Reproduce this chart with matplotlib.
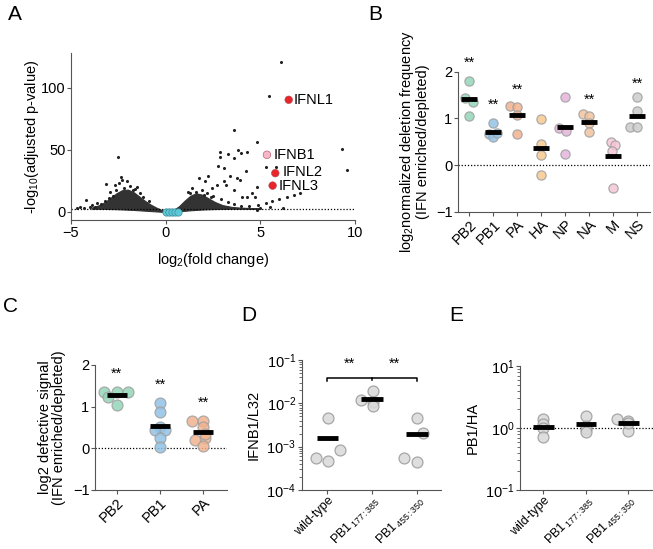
import numpy as np
import matplotlib
matplotlib.use('Agg')
import matplotlib.pyplot as plt

plt.rcParams['font.family'] = ['Liberation Sans', 'DejaVu Sans']
plt.rcParams['mathtext.fontset'] = 'custom'
plt.rcParams['mathtext.rm'] = 'Liberation Sans'
plt.rcParams['mathtext.it'] = 'Liberation Sans'
plt.rcParams['font.size'] = 10

# ---- panel A : volcano plot ----
left_cloud_x = [-3.9, -3.5, -3.2, -2.9, -2.6, -2.3, -2.0, -1.7, -1.4, -1.1, -0.8, -0.5, -0.2, 0.0]
left_cloud_top = [3.5, 5.5, 8, 11.5, 15, 17.5, 18, 16, 12.5, 9, 6, 3.5, 1.5, 0.5]
left_cloud_bot = [2.5, 2.5, 2.4, 2.3, 2.2, 2.0, 1.8, 1.6, 1.3, 1.0, 0.7, 0.4, 0.1, 0.0]
right_cloud_x = [0.0, 0.4, 0.7, 1.0, 1.3, 1.6, 1.9, 2.2, 2.6, 3.0, 3.5, 4.0, 4.5, 5.0]
right_cloud_top = [0.5, 1.5, 4.5, 9, 13, 15, 14, 11.5, 8, 5.5, 4, 3.4, 3.1, 3]
right_cloud_bot = [0, 0.2, 0.5, 0.9, 1.3, 1.6, 1.9, 2.1, 2.3, 2.4, 2.5, 2.5, 2.5, 2.5]

genes_fc = [-2.5, -2.37, -2.32, -2.06, -3.17, -2.67, -2.45, -1.74, -2.94, -3.64, -4.2, -4.52,
            -1.35, -1.52, -4.0, -3.9, -3.4, -3.2, -2.8, -2.2, -1.9, -1.6, -1.2, -0.9, -2.6,
            -3.0, -4.3, -4.7, -3.75,
            3.59, 4.83, 2.88, 2.88, 3.27, 3.59, 3.82, 4.0, 4.29, 2.79, 3.06, 4.24, 3.41, 3.77,
            2.23, 2.09, 1.74, 3.06, 3.2, 3.94, 4.83, 4.56, 3.59, 4.03, 4.29, 4.73, 2.44, 2.71,
            1.17, 6.11, 5.44, 9.32, 9.58, 5.32, 5.85, 1.4, 1.9, 2.2, 2.5, 2.9, 3.3, 3.6, 4.0,
            4.4, 4.9, 5.3, 5.6, 6.0, 6.4, 6.8, 7.1, 5.0, 5.5, 6.2, 4.8, 1.3, 1.6, 2.0, 2.4]
genes_p = [44.6, 28, 25.8, 24.5, 22.3, 21.8, 23.5, 17.7, 16.4, 7, 9.7, 4.3,
           15, 20.4, 4, 5.5, 6, 9, 13, 19.5, 21, 18.5, 12, 9, 18,
           11, 3.5, 3, 3.8,
           66, 56.2, 48.6, 44.6, 46.5, 43.3, 49.5, 47.3, 48.1, 36.6, 35.2, 33.3, 29, 27.2,
           29, 24.5, 27.2, 24.5, 21.8, 25.8, 19.9, 15, 17.7, 12.4, 12.4, 12.4, 19.1, 21.8,
           16.4, 120.7, 93.5, 50.5, 33.9, 36, 36, 19, 18, 15, 13, 10, 8, 6, 5,
           4.5, 5.5, 7, 9, 10, 12, 14, 15, 3.5, 4, 3, 1.6, 15, 16, 14, 12]

ctrl_fc = [0.0, 0.17, 0.33, 0.5, 0.66]
ctrl_p = [0.3, 0.3, 0.3, 0.3, 0.3]
ifn_names = ['IFNL1', 'IFNB1', 'IFNL2', 'IFNL3']
ifn_fc = [6.5, 5.35, 5.79, 5.65]
ifn_p = [90.3, 46, 31.2, 21.2]
ifn_colors = ['#e8262a', '#f4b8c8', '#e8262a', '#e8262a']
ifn_label_x = [6.75, 5.7, 6.2, 5.95]
ifn_label_y = [90.3, 46, 32, 20.5]
padj_cutoff = 2.5

# ---- panel B ----
segments = ['PB2', 'PB1', 'PA', 'HA', 'NP', 'NA', 'M', 'NS']
b_vals = [[1.79, 1.44, 1.36, 1.05],
          [0.89, 0.66, 0.61, 0.68],
          [1.26, 1.24, 1.08, 0.66],
          [0.99, 0.45, 0.21, -0.21],
          [1.46, 0.80, 0.73, 0.24],
          [1.10, 1.04, 0.89, 0.71],
          [0.50, 0.43, 0.30, -0.50],
          [1.45, 1.16, 0.82, 0.82]]
b_median = [1.41, 0.71, 1.07, 0.36, 0.81, 0.93, 0.19, 1.06]
b_signif = ['**', '**', '**', '', '', '**', '', '**']
b_star_y = [2.19, 1.30, 1.62, 0, 0, 1.39, 0, 1.75]
b_jitter = [[0, -0.18, 0.17, 0],
            [0, -0.15, 0, 0.15],
            [-0.3, 0, 0, 0],
            [0, 0, 0, 0],
            [0, -0.26, 0.04, 0],
            [-0.25, 0, 0, 0],
            [-0.1, 0.1, -0.03, 0],
            [0, 0, -0.3, 0]]
seg_colors = ['#93d5b9', '#92c2e6', '#f2b28e', '#f7c98f', '#e5b3dc', '#f0c49e', '#f6c6d6', '#cccccc']

# ---- panel C ----
c_segments = ['PB2', 'PB1', 'PA']
c_vals = [[1.36, 1.36, 1.36, 1.24, 1.05],
          [1.08, 0.86, 0.52, 0.44, 0.44, 0.24, 0.02],
          [0.65, 0.65, 0.52, 0.24, 0.20, 0.06, 0.35]]
c_jitter = [[-0.29, 0, 0.25, -0.19, 0],
            [0, 0, 0, -0.12, 0.12, 0, 0],
            [-0.25, 0, 0, 0.03, -0.2, 0, 0.03]]
c_median = [1.28, 0.535, 0.38]
c_star_y = [1.78, 1.52, 1.09]

# ---- panels D, E ----
mutants = ['wild-type', r'PB1$\,_{\mathregular{177:385}}$', r'PB1$\,_{\mathregular{455:350}}$']
d_vals = [[4.5e-3, 8.3e-4, 5.6e-4, 4.7e-4],
          [1.93e-2, 1.2e-2, 1.1e-2, 8.9e-3],
          [4.7e-3, 2.1e-3, 5.6e-4, 4.5e-4]]
d_jitter = [[0.02, 0.28, -0.26, 0.02],
            [0.02, -0.24, 0.02, 0.02],
            [0, 0.13, -0.29, 0]]
d_median = [1.55e-3, 1.26e-2, 1.94e-3]
e_vals = [[1.41, 1.15, 1.0, 0.71],
          [1.54, 1.08, 0.97, 0.87],
          [1.40, 1.28, 0.91, 1.2]]
e_jitter = [[0, 0, 0, 0],
            [0, 0, 0, 0],
            [-0.27, 0, 0, 0]]
e_median = [1.04, 1.16, 1.2]

AXC = '#555555'


def style_axes(ax):
    for s in ['top', 'right']:
        ax.spines[s].set_visible(False)
    for s in ['left', 'bottom']:
        ax.spines[s].set_color(AXC)
        ax.spines[s].set_linewidth(0.8)
    ax.tick_params(direction='out', length=3, width=0.8, color=AXC, labelsize=10.5, pad=1)
    ax.tick_params(which='minor', direction='out', length=2, width=0.6, color=AXC)
    ax.set_facecolor('none')


def strip(ax, vals, jitter, med, colors, size, barw, edge):
    for i, v in enumerate(vals):
        xs = [i + j for j in jitter[i]]
        ax.scatter(xs, v, s=size, color=colors[i], edgecolors=edge, linewidths=0.9,
                   alpha=0.85, zorder=2, clip_on=False)
    for i, m in enumerate(med):
        ax.hlines(m, i - barw / 2, i + barw / 2, color='black', lw=3.5, zorder=4)


fig = plt.figure(figsize=(6.53, 5.49), dpi=100)

# ----- A -----
axA = fig.add_axes([0.1087, 0.5993, 0.4349, 0.3042])
style_axes(axA)
axA.fill_between(left_cloud_x, left_cloud_bot, left_cloud_top, color='#333333', lw=0.8,
                 edgecolor='#333333', zorder=1)
axA.fill_between(right_cloud_x, right_cloud_bot, right_cloud_top, color='#333333', lw=0.8,
                 edgecolor='#333333', zorder=1)
axA.scatter(genes_fc, genes_p, s=1.5, color='#222222', zorder=2)
axA.axhline(padj_cutoff, color='black', ls=(0, (1, 1.5)), lw=0.9, zorder=1)
axA.scatter(ctrl_fc, ctrl_p, s=28, color='#5ec7d6', edgecolors='#3c8f9c', linewidths=0.5, zorder=3)
axA.scatter(ifn_fc, ifn_p, s=30, color=ifn_colors, edgecolors='#b0485a', linewidths=0.4, zorder=3)
for name, lx, ly in zip(ifn_names, ifn_label_x, ifn_label_y):
    axA.text(lx, ly, name, fontsize=10.5, va='center', ha='left')
axA.set_xlim(-5, 10)
axA.set_ylim(-6.5, 128)
axA.set_xticks([-5, 0, 5, 10])
axA.set_yticks([0, 50, 100])
axA.set_xlabel(r'log$_2$(fold change)', fontsize=10.5, labelpad=8)
axA.set_ylabel(r'-log$_{10}$(adjusted p-value)', fontsize=10.5, labelpad=0)

# ----- B -----
axB = fig.add_axes([0.7014, 0.6144, 0.294, 0.255])
style_axes(axB)
axB.axhline(0, color='black', ls=(0, (1, 1.5)), lw=0.9, zorder=1)
strip(axB, b_vals, b_jitter, b_median, seg_colors, 44, 0.7, '#a0a0a0')
for i, (s, y) in enumerate(zip(b_signif, b_star_y)):
    if s:
        axB.text(i, y, s, ha='center', va='center', fontsize=10.5)
axB.set_xlim(-0.46, 7.54)
axB.set_ylim(-1, 2)
axB.set_yticks([-1, 0, 1, 2])
axB.set_xticks(range(len(segments)))
axB.set_xticklabels(segments, rotation=45, ha='right', rotation_mode='anchor', fontsize=10.5)
axB.set_ylabel('log$_2$normalized deletion frequency\n(IFN enriched/depleted)', fontsize=10.5,
               labelpad=4, linespacing=1.0)

# ----- C -----
axC = fig.add_axes([0.1455, 0.1075, 0.2017, 0.2277])
style_axes(axC)
axC.axhline(0, color='black', ls=(0, (1, 1.5)), lw=0.9, zorder=1)
strip(axC, c_vals, c_jitter, c_median, seg_colors[:3], 62, 0.46, '#a0a0a0')
for i, y in enumerate(c_star_y):
    axC.text(i, y, '**', ha='center', va='center', fontsize=10.5)
axC.set_xlim(-0.5, 2.54)
axC.set_ylim(-1, 2)
axC.set_yticks([-1, 0, 1, 2])
axC.set_xticks(range(3))
axC.set_xticklabels(c_segments, rotation=45, ha='right', rotation_mode='anchor', fontsize=10.5)
axC.set_ylabel('log2 defective signal\n(IFN enriched/depleted)', fontsize=10.5, labelpad=5,
               linespacing=1.0)

# ----- D -----
axD = fig.add_axes([0.462, 0.1075, 0.2133, 0.2368])
style_axes(axD)
axD.set_yscale('log')
strip(axD, d_vals, d_jitter, d_median, ['#d9d9d9'] * 3, 62, 0.48, '#9a9a9a')
axD.plot([0, 0, 1, 2, 2], [0.032, 0.039, 0.039, 0.039, 0.032], color='black', lw=1.1, clip_on=False)
axD.plot([1, 1], [0.039, 0.034], color='black', lw=1.1, clip_on=False)
axD.text(0.5, 0.08, '**', ha='center', va='center', fontsize=10.5)
axD.text(1.5, 0.08, '**', ha='center', va='center', fontsize=10.5)
axD.set_xlim(-0.57, 2.53)
axD.set_ylim(1e-4, 1e-1)
axD.set_xticks(range(3))
axD.set_xticklabels(mutants, rotation=45, ha='right', rotation_mode='anchor', fontsize=9)
axD.set_ylabel('IFNB1/L32', fontsize=10.5, labelpad=4)

# ----- E -----
axE = fig.add_axes([0.7963, 0.1075, 0.2037, 0.2258])
style_axes(axE)
axE.set_yscale('log')
axE.axhline(1, color='black', ls=(0, (1, 1.5)), lw=0.9, zorder=1)
strip(axE, e_vals, e_jitter, e_median, ['#d9d9d9'] * 3, 62, 0.48, '#9a9a9a')
axE.set_xlim(-0.55, 2.58)
axE.set_ylim(0.1, 10)
axE.set_xticks(range(3))
axE.set_xticklabels(mutants, rotation=45, ha='right', rotation_mode='anchor', fontsize=9)
axE.set_ylabel('PB1/HA', fontsize=10.5, labelpad=4)

for ax in (axD, axE):
    ax.tick_params(axis='x', pad=0)

# panel letters
for lab, x, y in [('A', 8, 5), ('B', 368, 5), ('C', 3, 297), ('D', 241, 306), ('E', 449, 306)]:
    fig.text(x / 653, 1 - y / 549, lab, fontsize=15, ha='left', va='top')

fig.savefig('out.png', dpi=100)
